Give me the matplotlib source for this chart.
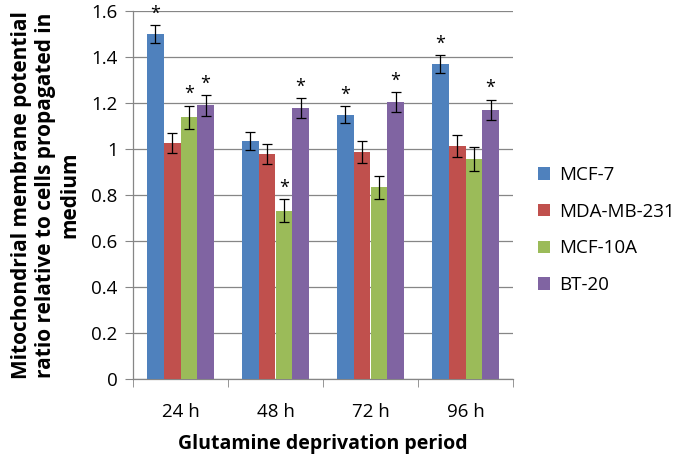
import matplotlib
matplotlib.use("Agg")
import matplotlib.pyplot as plt
import numpy as np
from matplotlib.patches import Patch

categories = ["24 h", "48 h", "72 h", "96 h"]
series_names = ["MCF-7", "MDA-MB-231", "MCF-10A", "BT-20"]
mcf7 = [1.50, 1.035, 1.148, 1.37]
mda = [1.026, 0.978, 0.987, 1.013]
mcf10a = [1.139, 0.732, 0.833, 0.957]
bt20 = [1.19, 1.178, 1.204, 1.17]
mcf7_err = [0.04, 0.04, 0.037, 0.04]
mda_err = [0.045, 0.045, 0.048, 0.047]
mcf10a_err = [0.05, 0.05, 0.05, 0.052]
bt20_err = [0.045, 0.045, 0.043, 0.045]
mcf7_sig = [True, False, True, True]
mda_sig = [False, False, False, False]
mcf10a_sig = [True, True, False, False]
bt20_sig = [True, True, True, True]
yticks = [0, 0.2, 0.4, 0.6, 0.8, 1.0, 1.2, 1.4, 1.6]
ytick_labels = ["0", "0.2", "0.4", "0.6", "0.8", "1", "1.2", "1.4", "1.6"]

colors = ["#4F81BD", "#C0504D", "#9BBB59", "#8064A2"]
values = [mcf7, mda, mcf10a, bt20]
errs = [mcf7_err, mda_err, mcf10a_err, bt20_err]
sigs = [mcf7_sig, mda_sig, mcf10a_sig, bt20_sig]

plt.rcParams['font.family'] = ['Open Sans', 'DejaVu Sans']

fig = plt.figure(figsize=(6.85, 4.59), dpi=100)
ax = fig.add_axes([133/685, 1-379/459, (513-133)/685, (379-11)/459])

x = np.arange(len(categories))
w = 0.176
for i in range(4):
    pos = x + (i - 1.5) * w
    ax.bar(pos, values[i], width=w, color=colors[i], zorder=3)
    ax.errorbar(pos, values[i], yerr=errs[i], fmt='none', ecolor='black',
                elinewidth=0.9, capsize=3.5, capthick=0.9, zorder=4)
    for p, v, e, s in zip(pos, values[i], errs[i], sigs[i]):
        if s:
            ax.text(p, v + e + 0.01, "*", ha='center', va='bottom',
                    fontsize=13, color='black', zorder=5)

ax.set_xlim(-0.5, 3.5)
ax.set_ylim(0, 1.6)
ax.set_yticks(yticks)
ax.set_yticklabels(ytick_labels, fontsize=13.5)
ax.set_xticks(x)
ax.set_xticklabels(categories, fontsize=13.5)
ax.tick_params(axis='x', length=0, pad=17)
ax.set_xticks([-0.5, 0.5, 1.5, 2.5, 3.5], minor=True)
ax.tick_params(axis='x', which='minor', length=6, color='#868686')
ax.tick_params(axis='y', length=6, color='#868686', pad=5)
ax.yaxis.grid(True, color='#868686', linewidth=0.9, zorder=0)
for s in ['top', 'right']:
    ax.spines[s].set_visible(False)
for s in ['left', 'bottom']:
    ax.spines[s].set_color('#868686')
    ax.spines[s].set_linewidth(0.9)

ax.set_xlabel("Glutamine deprivation period", fontsize=14, fontweight='bold', labelpad=10)
ax.set_ylabel("Mitochondrial membrane potential\nratio relative to cells propagated in\nmedium",
              fontsize=15, fontweight='bold', labelpad=8, linespacing=1.2)

handles = [Patch(facecolor=c, edgecolor='none') for c in colors]
fig.legend(handles, series_names, loc='center left', bbox_to_anchor=(530/685, 1-230/459),
           frameon=False, fontsize=13.5, handlelength=0.65, handleheight=0.65,
           labelspacing=1.0, handletextpad=0.5, borderaxespad=0)

fig.savefig("out.png", dpi=100)
